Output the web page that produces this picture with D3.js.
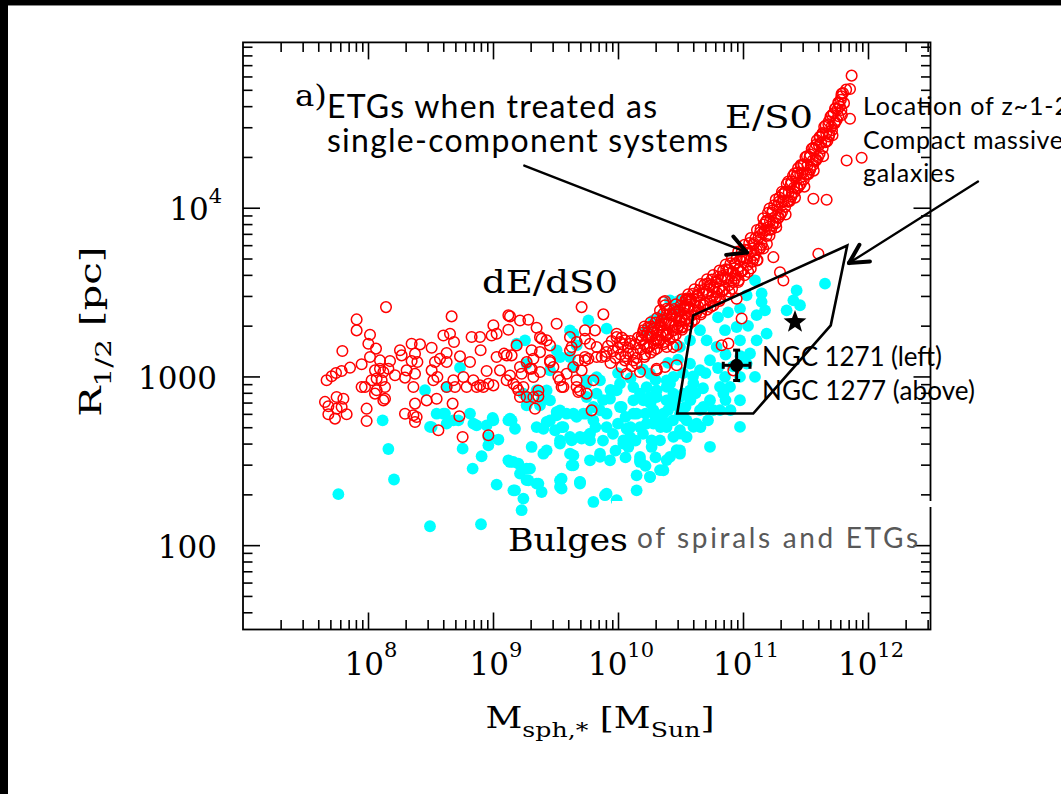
<!DOCTYPE html>
<html>
<head>
<meta charset="utf-8">
<script src="https://cdn.jsdelivr.net/npm/d3@7"></script>
<style>
  html, body { margin: 0; padding: 0; background: #fff; overflow: hidden; }
  svg { display: block; }
</style>
</head>
<body>
<svg id="chart" width="1061" height="794"></svg>
<script>
// ---- Data: [log10 M_sph,* (M_sun), log10 R_1/2 (pc)] ----

// Early-type galaxies (single-component fits), low/intermediate mass: dE/dS0 sequence
const dwarfEtgs = [
  [8.144,3.411],[7.909,3.338],[7.909,3.273],[8.016,3.247],[8.003,3.194],[7.795,3.151],[8.064,3.165],[7.856,3.052],
  [7.789,3.032],[7.744,3.020],[7.709,3.001],[7.669,2.977],[7.949,3.072],[8.016,3.115],[8.096,3.095],[8.176,3.091],
  [8.163,3.046],[8.256,3.155],[8.269,3.125],[8.349,3.194],[8.416,3.190],[8.376,3.135],[8.349,3.091],[8.395,3.086],
  [8.509,3.170],[8.603,3.243],[8.656,3.253],[8.688,3.204],[8.629,3.139],[8.576,3.105],[8.536,3.086],[8.509,3.036],
  [8.555,2.997],[8.629,3.086],[8.736,3.119],[8.829,3.234],[8.901,3.155],[8.669,3.356],[9.003,3.303],[9.029,3.253],
  [8.989,3.243],[9.123,3.362],[8.949,3.032],[9.029,3.115],[9.088,3.135],[9.056,3.036],[9.109,2.977],[8.816,3.086],
  [8.763,2.997],[8.843,2.977],[8.923,2.937],[8.869,2.937],[8.789,2.937],[8.683,2.977],[8.696,2.937],[8.629,2.937],
  [7.656,2.849],[7.683,2.823],[7.683,2.776],[7.736,2.750],[7.749,2.878],[7.803,2.868],[7.749,2.809],[7.789,2.819],
  [7.829,2.776],[7.989,2.809],[7.989,2.736],[7.949,2.937],[7.976,2.937],[8.029,2.977],[8.069,2.987],[8.109,2.977],
  [8.136,2.937],[8.069,2.918],[8.136,2.868],[8.056,2.898],[8.056,3.036],[8.096,3.046],[8.123,3.026],[8.216,3.007],
  [8.296,2.993],[8.309,3.036],[8.376,3.016],[8.363,2.937],[8.376,2.839],[8.296,2.779],[8.363,2.770],[8.376,2.730],
  [8.389,2.760],[8.469,2.858],[8.549,2.868],[8.563,2.681],[8.677,2.839],[8.731,2.764],[8.757,2.641],[8.963,2.651],
  [8.523,2.977],[8.123,2.858],[8.896,2.947],[9.003,2.947],[8.963,2.957],[8.896,3.234],
  [9.709,3.411],[9.883,3.368],[9.509,3.312],[9.136,3.356],[9.216,3.332],[9.283,3.336],[9.349,3.289],[9.123,3.277],
  [9.376,3.233],[9.429,3.214],[9.189,3.184],[9.109,3.125],[9.149,3.125],[9.309,3.155],[9.323,3.105],[9.269,3.085],
  [9.216,3.056],[9.309,3.046],[9.376,3.026],[9.323,2.997],[9.136,3.006],[9.163,2.957],[9.203,2.918],[9.243,2.937],
  [9.216,2.878],[9.323,2.878],[9.363,2.882],[9.336,2.809],[9.456,3.095],[9.483,3.056],[9.523,2.997],[9.549,2.937],
  [9.589,3.016],[9.643,3.056],[9.683,3.095],[9.736,3.095],[9.763,3.105],[9.709,3.036],[9.669,2.977],[9.683,2.908],
  [9.563,2.937],[9.616,3.233],[9.629,3.174],[9.669,3.204],[9.736,3.273],[9.816,3.273],[9.829,3.174],[9.869,3.115],
  [9.909,3.145],[9.989,3.233],[10.016,3.204],[10.056,3.214],[10.029,3.056],[10.056,3.095],[10.069,3.016],[10.083,3.135],
  [10.123,3.095],[10.149,3.075],[10.176,3.026],[9.789,2.799],[10.203,3.273],[10.243,3.233],[10.283,3.263],[10.309,3.214],
  [10.336,3.293],[10.363,3.332],[10.389,3.253],[10.443,3.273],[10.496,3.332],[10.536,3.372],[10.363,3.441],[10.389,3.401],
  [10.456,3.382],[10.309,3.046],[10.376,3.056],[10.469,3.066],[10.549,3.451],[10.536,3.411],[10.509,3.293],[10.443,3.174],
  [9.389,3.223],[9.229,3.016],[9.296,3.046],[9.456,3.085],[9.536,2.977],[9.829,3.115],[9.189,2.937],[9.269,2.878],
  [9.363,2.917],[9.376,3.144],[9.456,3.184],[9.616,3.154],[9.736,3.223],[9.776,3.194],[9.749,2.898],[9.669,2.937],
  [10.336,3.391],[10.376,3.447],[9.736,3.115],[9.803,2.977],[9.696,2.917],[9.989,3.253],[10.096,3.194],[10.189,3.214],
  [10.829,3.185],[10.883,3.195],[10.989,3.343],[10.949,3.461],[10.376,3.422],[10.549,3.461],[10.576,3.451],[10.469,3.185],
  [10.389,3.175],[10.309,3.037],[10.923,3.036],
  [9.90,3.12],[9.92,3.18],[9.94,3.08],[9.96,3.15],[9.98,3.11],[10.00,3.17],[10.02,3.13],[10.04,3.19],
  [10.06,3.12],[10.08,3.17],[10.10,3.21],[10.12,3.14],[10.14,3.19],[10.16,3.23],[10.18,3.16],[10.19,3.24],
  [10.11,3.06],[10.15,3.11],[10.03,3.23],[9.95,3.21]
];

// Early-type galaxies (single-component fits), high mass: E/S0 sequence
const giantEtgs = [
  [10.200,3.260],[10.208,3.190],[10.216,3.130],[10.225,3.242],[10.233,3.172],[10.241,3.292],
  [10.250,3.175],[10.258,3.245],[10.266,3.295],[10.275,3.237],[10.283,3.287],[10.291,3.157],
  [10.300,3.320],[10.308,3.220],[10.316,3.270],[10.325,3.202],[10.333,3.302],[10.341,3.242],
  [10.350,3.335],[10.358,3.265],[10.366,3.205],[10.375,3.317],[10.383,3.247],[10.391,3.367],
  [10.400,3.250],[10.408,3.320],[10.416,3.370],[10.425,3.315],[10.433,3.365],[10.441,3.235],
  [10.450,3.400],[10.458,3.300],[10.466,3.350],[10.475,3.285],[10.483,3.385],[10.491,3.325],
  [10.500,3.420],[10.508,3.350],[10.516,3.290],[10.525,3.405],[10.533,3.335],[10.541,3.455],
  [10.550,3.340],[10.558,3.410],[10.566,3.460],[10.575,3.405],[10.583,3.455],[10.591,3.325],
  [10.600,3.490],[10.608,3.390],[10.616,3.440],[10.625,3.375],[10.633,3.475],[10.641,3.415],
  [10.650,3.510],[10.658,3.440],[10.666,3.380],[10.675,3.495],[10.683,3.425],[10.691,3.545],
  [10.700,3.430],[10.708,3.500],[10.716,3.550],[10.725,3.492],[10.733,3.542],[10.741,3.412],
  [10.750,3.575],[10.758,3.475],[10.766,3.525],[10.775,3.457],[10.783,3.557],[10.791,3.497],
  [10.800,3.590],[10.808,3.520],[10.816,3.460],[10.825,3.577],[10.833,3.507],[10.841,3.627],
  [10.850,3.515],[10.858,3.585],[10.866,3.635],[10.875,3.582],[10.883,3.632],[10.891,3.502],
  [10.900,3.670],[10.908,3.570],[10.916,3.620],[10.925,3.560],[10.933,3.660],[10.941,3.600],
  [10.950,3.700],[10.958,3.630],[10.966,3.570],[10.975,3.690],[10.983,3.620],[10.991,3.740],
  [11.000,3.630],[11.008,3.700],[11.016,3.750],[11.025,3.700],[11.033,3.750],[11.041,3.620],
  [11.050,3.790],[11.058,3.690],[11.066,3.740],[11.075,3.680],[11.083,3.780],[11.091,3.720],
  [11.100,3.820],[11.108,3.750],[11.116,3.690],[11.125,3.825],[11.133,3.755],[11.141,3.875],
  [11.150,3.780],[11.158,3.850],[11.166,3.900],[11.175,3.865],[11.183,3.915],[11.191,3.785],
  [11.200,3.970],[11.208,3.870],[11.216,3.920],[11.225,3.870],[11.233,3.970],[11.241,3.910],
  [11.250,4.015],[11.258,3.945],[11.266,3.885],[11.275,4.010],[11.283,3.940],[11.291,4.060],
  [11.300,3.960],[11.308,4.030],[11.316,4.080],[11.325,4.040],[11.333,4.090],[11.341,3.960],
  [11.350,4.140],[11.358,4.040],[11.366,4.090],[11.375,4.040],[11.383,4.140],[11.391,4.080],
  [11.400,4.190],[11.408,4.120],[11.416,4.060],[11.425,4.185],[11.433,4.115],[11.441,4.235],
  [11.450,4.130],[11.458,4.200],[11.466,4.250],[11.475,4.205],[11.483,4.255],[11.491,4.125],
  [11.500,4.300],[11.508,4.200],[11.516,4.250],[11.525,4.200],[11.533,4.300],[11.541,4.240],
  [11.550,4.350],[11.558,4.280],[11.566,4.220],[11.575,4.350],[11.583,4.280],[11.591,4.400],
  [11.600,4.300],[11.608,4.370],[11.616,4.420],[11.625,4.385],[11.633,4.435],[11.641,4.305],
  [11.650,4.480],[11.658,4.390],[11.666,4.440],[11.675,4.395],[11.683,4.495],[11.691,4.435],
  [11.700,4.540],[11.708,4.480],[11.716,4.430],[11.725,4.560],[11.733,4.500],[11.741,4.590],
  [11.750,4.520],[11.758,4.585],[11.766,4.620],[11.775,4.600],[11.783,4.640],[11.791,4.550],
  [11.800,4.680],[11.808,4.620],[11.825,4.700],
  [10.212,3.296],[10.212,3.116],[10.237,3.258],[10.237,3.168],[10.262,3.321],[10.262,3.141],
  [10.287,3.283],[10.287,3.193],[10.312,3.346],[10.312,3.166],[10.337,3.308],[10.337,3.218],
  [10.362,3.371],[10.362,3.191],[10.387,3.333],[10.387,3.243],[10.412,3.397],[10.412,3.217],
  [10.437,3.362],[10.437,3.272],[10.462,3.427],[10.462,3.247],[10.487,3.392],[10.487,3.302],
  [10.512,3.457],[10.512,3.277],[10.537,3.422],[10.537,3.332],[10.562,3.487],[10.562,3.307],
  [10.587,3.452],[10.587,3.362],[10.612,3.517],[10.612,3.337],[10.637,3.482],[10.637,3.392],
  [10.662,3.547],[10.662,3.367],[10.687,3.512],[10.687,3.422],[10.712,3.576],[10.712,3.396],
  [10.737,3.538],[10.737,3.448],[10.762,3.601],[10.762,3.421],[10.787,3.563],[10.787,3.473],
  [10.812,3.628],[10.812,3.448],[10.837,3.596],[10.837,3.506],[10.862,3.663],[10.862,3.483],
  [10.887,3.631],[10.887,3.541],[10.912,3.700],[10.912,3.520],[10.937,3.670],[10.937,3.580],
  [10.962,3.740],[10.962,3.560],[10.987,3.710],[10.987,3.620],[11.012,3.780],[11.012,3.600],
  [11.037,3.750],[11.037,3.660],[11.062,3.820],[11.062,3.640],[11.087,3.790],[11.087,3.700],
  [11.112,3.868],[11.112,3.688],[11.137,3.853],[11.137,3.763],[11.162,3.938],[11.162,3.758],
  [11.187,3.923],[11.187,3.833],[11.212,3.995],[11.212,3.835],[11.237,3.983],[11.237,3.893],
  [11.262,4.048],[11.262,3.908],[11.287,4.035],[11.287,3.945],[11.312,4.095],[11.312,3.975],
  [11.337,4.095],[11.337,4.005],[11.362,4.155],[11.362,4.035],[11.387,4.155],[11.387,4.065],
  [11.412,4.203],[11.412,4.093],[11.437,4.208],[11.437,4.118],[11.462,4.253],[11.462,4.143],
  [11.487,4.258],[11.487,4.168],[11.512,4.305],[11.512,4.195],[11.537,4.315],[11.537,4.225],
  [11.562,4.355],[11.562,4.255],[11.587,4.375],[11.587,4.285],[11.612,4.418],[11.612,4.318],
  [11.637,4.443],[11.637,4.353],[11.662,4.488],[11.662,4.388],[11.687,4.513],[11.687,4.423],
  [11.712,4.550],[11.712,4.460],[11.737,4.588],[11.737,4.508],[11.762,4.623],[11.762,4.543],
  [11.787,4.660],[11.787,4.580],
  [11.869,4.783],[11.856,4.704],[11.789,4.675],[11.856,4.527],[11.829,4.280],[11.949,4.296],
  [11.563,4.053],[11.669,4.047],[11.603,3.727],[11.296,3.618],[11.323,3.569],[11.243,3.707]
];

// Bulges of spirals and ETGs
const bulges = [
  [8.117,2.740],[8.163,2.570],[8.208,2.389],[7.763,2.302],[8.496,2.112],[8.904,2.124],[8.736,3.052],[8.456,2.918],
  [8.496,2.701],[8.616,2.780],[8.629,2.720],[8.723,2.740],[8.816,2.780],[8.869,2.710],[8.949,2.710],[8.997,2.754],
  [9.043,2.626],[8.963,2.592],[8.757,2.572],[8.909,2.527],[8.837,2.454],[9.029,2.359],[8.629,2.937],[9.123,2.740],
  [9.123,2.503],[9.163,2.325],[8.843,2.720],[8.603,2.779],[8.683,2.740],[8.509,2.700],[8.549,2.779],[8.963,2.641],
  [9.003,2.740],
  [9.229,2.207],[9.136,2.493],[9.269,2.454],[9.283,2.384],[9.363,2.365],[9.536,2.384],[9.549,2.335],[9.696,2.375],
  [9.429,2.562],[9.536,2.602],[9.643,2.532],[9.643,2.473],[9.549,2.700],[9.616,2.641],[9.696,2.641],[9.776,2.661],
  [9.403,2.690],[9.456,2.740],[9.509,2.769],[9.589,2.779],[9.669,2.760],[9.749,2.779],[9.803,2.740],[9.136,2.750],
  [9.376,2.829],[9.456,2.858],[9.509,2.789],[9.429,2.917],[9.269,2.829],[9.243,2.898],[9.189,3.194],[9.269,3.075],
  [9.456,3.036],[9.536,3.115],[9.616,3.115],[9.643,3.253],[9.669,3.184],[9.643,3.056],[9.749,2.977],[9.829,2.996],
  [9.829,2.898],
  [9.149,2.740],[9.176,2.690],[9.309,2.582],[9.403,2.542],[9.163,2.493],[9.203,2.483],[9.296,2.454],[9.216,2.424],
  [9.269,2.385],[9.176,2.325],[9.243,2.276],[9.349,2.365],[9.389,2.315],[9.549,2.394],[9.536,2.345],[9.696,2.365],
  [9.803,2.256],[9.909,2.305],[9.989,2.266],[10.149,2.325],[10.149,2.414],[10.256,2.404],[10.363,2.444],[10.416,2.523],
  [10.496,2.562],[9.349,2.700],[9.429,2.730],[9.496,2.681],[9.563,2.700],[9.536,2.621],[9.629,2.621],[9.709,2.631],
  [9.776,2.621],[9.856,2.542],[9.776,2.503],[9.936,2.503],[9.616,2.542],[9.629,2.473],[10.043,2.621],[10.083,2.582],
  [10.176,2.523],[10.269,2.582],[10.336,2.621],[10.069,2.690],[10.176,2.700],[10.283,2.720],[10.389,2.700],[10.496,2.661],
  [10.549,2.740],[9.536,2.799],[9.643,2.779],[9.723,2.779],[9.803,2.819],[9.909,2.779],[9.936,2.868],[10.029,2.819],
  [10.149,2.779],[10.203,2.858],[10.309,2.878],[10.389,2.858],[10.523,2.898],[10.416,2.957],[10.229,2.937],[10.123,2.937],
  [9.856,2.977],[9.749,2.957],[9.616,3.273],[9.763,3.332],[9.909,3.283],[10.336,3.352],[10.469,3.411],[10.496,3.451],
  [9.256,3.214],[9.509,3.155],[9.349,2.918],[9.389,2.858],[9.283,2.868],[10.123,2.858],[10.016,2.957],[10.256,3.016],
  [10.389,2.977],[10.443,2.878],
  [9.696,2.374],[9.896,2.296],[10.496,2.542],[10.176,2.493],[10.043,2.602],[9.856,2.523],[9.749,2.641],[9.909,2.700],
  [10.096,2.641],[10.269,2.621],[10.549,2.641],[10.629,2.720],[10.496,2.779],[10.363,2.779],[10.229,2.720],[10.123,2.779],
  [10.016,2.819],[9.856,2.799],[9.749,2.878],[9.989,2.917],[10.176,2.898],[10.309,2.917],[10.443,2.898],[10.576,2.917],
  [10.683,2.819],
  [11.656,3.550],[11.456,3.422],[11.349,3.392],[11.149,3.442],[11.176,3.392],[11.109,3.363],[11.029,3.481],[10.976,3.402],
  [10.949,3.293],[10.856,3.274],[10.976,3.214],[11.109,3.214],[11.189,3.254],[11.056,3.136],[11.029,3.076],[11.096,2.997],
  [10.976,2.997],[10.856,2.997],[10.816,2.938],[10.896,2.938],[10.976,2.859],[10.843,2.899],[10.736,2.859],[10.763,2.800],
  [10.816,2.800],[10.656,2.800],[10.603,2.701],[10.496,2.681],[10.443,2.642],[10.523,2.760],[10.389,2.721],[10.336,2.760],
  [10.283,2.800],[10.256,2.879],[10.389,2.938],[10.443,2.997],[10.603,2.958],[10.656,3.037],[10.576,3.076],[10.736,3.096],
  [10.789,3.175],[10.709,3.214],[10.656,3.274],[10.576,3.214],[10.496,3.175],[10.976,2.701],[10.736,2.583],[10.469,2.563],
  [10.389,2.504],[10.336,2.445],[10.256,2.405],[10.176,2.504],[10.416,3.451],[10.496,3.451],[10.469,3.392],[10.283,3.333],
  [10.336,3.353],[10.229,3.274],[11.096,3.570],[11.403,3.451],[11.429,3.510],[11.149,3.492],
  [9.96,2.66],[10.00,2.72],[10.06,2.76],[10.10,2.70],[10.14,2.62],[10.20,2.66],[10.22,2.78],[10.26,2.84],
  [10.30,2.76],[10.34,2.70],[10.40,2.80],[10.44,2.74],[10.46,2.83],[10.50,2.88],[10.54,2.82],[10.58,2.86],
  [10.62,2.90],[10.60,3.00],[10.52,3.02],[10.48,3.10],[10.40,3.08],[10.30,2.98],[10.20,3.04],[10.10,2.99],
  [10.00,3.02],[9.94,2.92],[9.88,2.86],[9.82,2.70],[9.88,2.62],[9.98,2.56],[10.06,2.52],[10.22,2.47],
  [10.30,2.52],[10.68,2.93],[10.70,3.02],[10.66,2.70],[10.72,2.74],[10.86,2.86],[10.90,2.80],[10.92,3.06],
  [10.86,3.13],[10.80,3.05],[10.98,3.12],[11.04,3.30],[10.88,3.38],[10.80,3.35]
];

// Region occupied by compact massive galaxies at z~1-2 (outline vertices)
const compactRegion = [[10.602,3.362],[11.834,3.776],[11.702,3.303],[11.082,2.780],[10.474,2.780]];

// Individual objects
const ngc1277 = { logM: 11.416, logR: 3.322 };
const ngc1271 = { logM: 10.949, logR: 3.066, errLogM: 0.107, errLogR: 0.09 };

// Annotation arrows: [tail, head] in the same log units
const arrowSingleComponent = [[9.25, 4.25], [11.032, 3.735]];
const arrowCompact = [[12.88, 4.155], [11.848, 3.672]];

// Axis ticks
const xMajorExponents = [8, 9, 10, 11, 12];
const yTickLabels = [
  { value: 100, base: "100", exp: "" },
  { value: 1000, base: "1000", exp: "" },
  { value: 10000, base: "10", exp: "4" }
];

// ---- Layout ----
const W = 1061, H = 794;
const plot = { left: 243, right: 930.5, top: 42.4, bottom: 629.5 };
const serif = "'DejaVu Serif', serif";
const sans = "Lato, 'Open Sans', sans-serif";

const x = d3.scaleLog().domain([1e7, Math.pow(10, 12.5)]).range([plot.left, plot.right]);
const y = d3.scaleLog().domain([Math.pow(10, 1.5), Math.pow(10, 4.98)]).range([plot.bottom, plot.top]);
const px = d => x(Math.pow(10, d[0]));
const py = d => y(Math.pow(10, d[1]));

const svg = d3.select("#chart");
svg.append("rect").attr("width", W).attr("height", H).attr("fill", "#fff");

// Slide frame
svg.append("rect").attr("x", 0).attr("y", 0).attr("width", W).attr("height", 5).attr("fill", "#000");
svg.append("rect").attr("x", 0).attr("y", 5).attr("width", W).attr("height", 1).attr("fill", "#888");
svg.append("rect").attr("x", 0).attr("y", 0).attr("width", 8).attr("height", H).attr("fill", "#000");

// Bulges: filled cyan discs
svg.append("g").selectAll("circle").data(bulges).join("circle")
  .attr("cx", px).attr("cy", py).attr("r", 5.9).attr("fill", "#00ffff");

// ETGs: open red circles
svg.append("g").selectAll("circle").data(dwarfEtgs.concat(giantEtgs)).join("circle")
  .attr("cx", px).attr("cy", py).attr("r", 5.3)
  .attr("fill", "none").attr("stroke", "#ff0000").attr("stroke-width", 1.5);

// Compact-galaxy region
svg.append("path")
  .attr("d", d3.line().x(px).y(py).curve(d3.curveLinearClosed)(compactRegion))
  .attr("fill", "none").attr("stroke", "#000").attr("stroke-width", 2.6).attr("stroke-linejoin", "miter");

// NGC 1277 star
function starPath(R, r) {
  const pts = [];
  for (let i = 0; i < 10; i++) {
    const a = -Math.PI / 2 + i * Math.PI / 5;
    const rr = i % 2 === 0 ? R : r;
    pts.push([rr * Math.cos(a), rr * Math.sin(a)]);
  }
  return "M" + pts.map(p => p.join(",")).join("L") + "Z";
}
svg.append("path")
  .attr("d", starPath(12, 5))
  .attr("transform", `translate(${px([ngc1277.logM, ngc1277.logR])},${py([ngc1277.logM, ngc1277.logR])})`)
  .attr("fill", "#000");

// NGC 1271 with error bars
{
  const g = svg.append("g").attr("stroke", "#000").attr("stroke-width", 3);
  const cx = px([ngc1271.logM, ngc1271.logR]), cy = py([ngc1271.logM, ngc1271.logR]);
  const xl = px([ngc1271.logM - ngc1271.errLogM, 0]), xr = px([ngc1271.logM + ngc1271.errLogM, 0]);
  const yt = py([0, ngc1271.logR + ngc1271.errLogR]), yb = py([0, ngc1271.logR - ngc1271.errLogR]);
  g.append("line").attr("x1", xl).attr("x2", xr).attr("y1", cy).attr("y2", cy);
  g.append("line").attr("x1", cx).attr("x2", cx).attr("y1", yt).attr("y2", yb);
  const cap = 3.5;
  g.append("line").attr("x1", xl).attr("x2", xl).attr("y1", cy - cap).attr("y2", cy + cap);
  g.append("line").attr("x1", xr).attr("x2", xr).attr("y1", cy - cap).attr("y2", cy + cap);
  g.append("line").attr("x1", cx - cap).attr("x2", cx + cap).attr("y1", yt).attr("y2", yt);
  g.append("line").attr("x1", cx - cap).attr("x2", cx + cap).attr("y1", yb).attr("y2", yb);
  svg.append("circle").attr("cx", cx).attr("cy", cy).attr("r", 6.5).attr("fill", "#000");
}

// Arrows
function drawArrow(a) {
  const x1 = px(a[0]), y1 = py(a[0]), x2 = px(a[1]), y2 = py(a[1]);
  const ang = Math.atan2(y2 - y1, x2 - x1);
  const g = svg.append("g").attr("stroke", "#000").attr("stroke-linecap", "round");
  g.append("line").attr("x1", x1).attr("y1", y1).attr("x2", x2).attr("y2", y2).attr("stroke-width", 2.3);
  const L = 21, spread = 28 * Math.PI / 180;
  [-1, 1].forEach(s => {
    const b = ang + Math.PI + s * spread;
    g.append("line").attr("x1", x2).attr("y1", y2)
      .attr("x2", x2 + L * Math.cos(b)).attr("y2", y2 + L * Math.sin(b)).attr("stroke-width", 4);
  });
}
drawArrow(arrowSingleComponent);
drawArrow(arrowCompact);

// ---- Axes (ticks on all four sides, pointing inward) ----
const isMajor = v => Math.abs(Math.log10(v) - Math.round(Math.log10(v))) < 1e-6;
const xTicks = [], yTicks = [];
for (let e = 7; e <= 12; e++) for (let m = 1; m <= 9; m++) {
  const v = m * Math.pow(10, e);
  if (v > 1e7 * 1.0001 && v <= Math.pow(10, 12.5)) xTicks.push(v);
}
for (let e = 1; e <= 4; e++) for (let m = 1; m <= 9; m++) {
  const v = m * Math.pow(10, e);
  if (v >= Math.pow(10, 1.5) && v <= Math.pow(10, 4.98)) yTicks.push(v);
}
const majorLen = 17, minorLen = 9.5;
function styleAxis(g, sign, vertical) {
  g.select(".domain").remove();
  g.selectAll(".tick text").remove();
  g.selectAll(".tick line")
    .attr(vertical ? "x2" : "y2", d => sign * (isMajor(d) ? majorLen : minorLen))
    .attr("stroke", "#000").attr("stroke-width", 1.6);
}
svg.append("g").attr("transform", `translate(0,${plot.bottom})`)
  .call(d3.axisBottom(x).tickValues(xTicks).tickSizeOuter(0))
  .call(g => styleAxis(g, -1, false));
svg.append("g").attr("transform", `translate(0,${plot.top})`)
  .call(d3.axisTop(x).tickValues(xTicks).tickSizeOuter(0))
  .call(g => styleAxis(g, 1, false));
svg.append("g").attr("transform", `translate(${plot.left},0)`)
  .call(d3.axisLeft(y).tickValues(yTicks).tickSizeOuter(0))
  .call(g => styleAxis(g, 1, true));
svg.append("g").attr("transform", `translate(${plot.right},0)`)
  .call(d3.axisRight(y).tickValues(yTicks).tickSizeOuter(0))
  .call(g => styleAxis(g, -1, true));

svg.append("rect")
  .attr("x", plot.left).attr("y", plot.top)
  .attr("width", plot.right - plot.left).attr("height", plot.bottom - plot.top)
  .attr("fill", "none").attr("stroke", "#000").attr("stroke-width", 1.8);

// Tick labels
const xl = svg.append("g").attr("font-family", serif).attr("fill", "#000");
xMajorExponents.forEach(e => {
  const t = xl.append("text").attr("x", x(Math.pow(10, e)) + 3).attr("y", 675)
    .attr("text-anchor", "middle");
  t.append("tspan").attr("font-size", 31).text("10");
  t.append("tspan").attr("font-size", 21).attr("dy", -18).text(String(e));
});
const yl = svg.append("g").attr("font-family", serif).attr("fill", "#000");
yTickLabels.forEach(d => {
  const t = yl.append("text").attr("x", d.exp ? 222 : 217).attr("y", y(d.value) + 12.5)
    .attr("text-anchor", "end");
  t.append("tspan").attr("font-size", 31).text(d.base);
  if (d.exp) t.append("tspan").attr("font-size", 21).attr("dy", -17).text(d.exp);
});

// Axis titles
{
  const t = svg.append("text").attr("font-family", serif).attr("fill", "#000")
    .attr("x", 600).attr("y", 728).attr("text-anchor", "middle")
    .attr("textLength", 229).attr("lengthAdjust", "spacingAndGlyphs");
  t.append("tspan").attr("font-size", 30).text("M");
  t.append("tspan").attr("font-size", 21).attr("dy", 9).text("sph,*");
  t.append("tspan").attr("font-size", 30).attr("dy", -9).text("\u00a0[M");
  t.append("tspan").attr("font-size", 21).attr("dy", 9).text("Sun");
  t.append("tspan").attr("font-size", 30).attr("dy", -9).text("]");
}
{
  const t = svg.append("text").attr("font-family", serif).attr("fill", "#000")
    .attr("transform", "translate(100.5,331.7) rotate(-90)").attr("text-anchor", "middle")
    .attr("textLength", 170).attr("lengthAdjust", "spacingAndGlyphs");
  t.append("tspan").attr("font-size", 30).text("R");
  t.append("tspan").attr("font-size", 22).attr("dy", 10).text("1/2");
  t.append("tspan").attr("font-size", 30).attr("dy", -10).text("\u00a0[pc]");
}

// In-plot labels
function label(txt, xPos, yPos, font, size, len, color, adjust) {
  const t = svg.append("text").attr("x", xPos).attr("y", yPos)
    .attr("font-family", font).attr("font-size", size).attr("fill", color || "#000").text(txt);
  if (len) t.attr("textLength", len).attr("lengthAdjust", adjust || "spacing");
  return t;
}
label("a)", 295, 106, serif, 30, 32, null, "spacingAndGlyphs");
label("E/S0", 725, 128, serif, 31, 88, null, "spacingAndGlyphs");
label("dE/dS0", 482, 293, serif, 31, 136, null, "spacingAndGlyphs");
label("Bulges", 508, 551, serif, 31, 120, null, "spacingAndGlyphs");
label("of spirals and ETGs", 637, 548, sans, 28, 281, "#595959");

label("ETGs when treated as", 327, 118, sans, 32, 330);
label("single-component systems", 327, 152, sans, 32, 401);

label("Location of z~1-2", 863, 115, sans, 25, 206);
label("Compact massive", 863, 149, sans, 25, 200);
label("galaxies", 863, 182, sans, 25, 92);

label("NGC 1271 (left)", 762, 366, sans, 26, 180);
label("NGC 1277 (above)", 762, 400, sans, 26, 213);

// Thin white strip from the overlapping label box
svg.append("rect").attr("x", 612).attr("y", 501).attr("width", 321).attr("height", 6).attr("fill", "#fff");
</script>
</body>
</html>
